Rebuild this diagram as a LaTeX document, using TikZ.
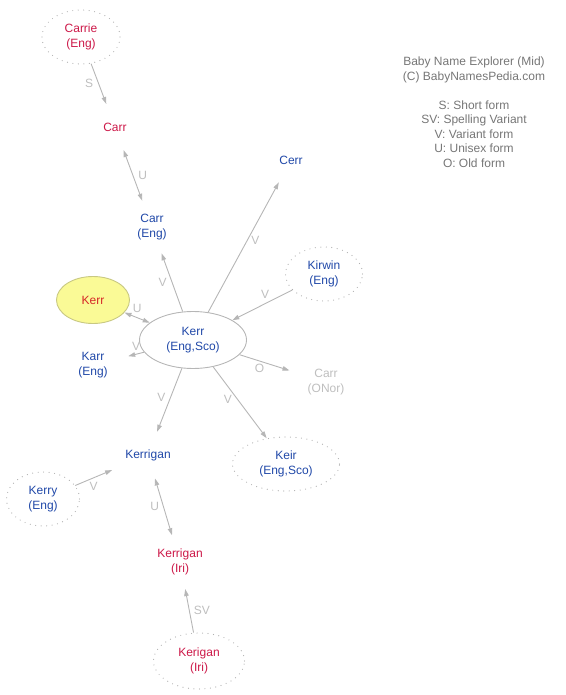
\documentclass[tikz,border=0pt]{standalone}
\usepackage{fontspec}
\setmainfont{Liberation Sans}
\usetikzlibrary{arrows.meta,shapes.geometric}
\definecolor{nmblue}{RGB}{32,72,168}
\definecolor{nmred}{RGB}{204,24,72}
\definecolor{nmself}{RGB}{214,40,40}
\definecolor{nmgray}{RGB}{190,190,190}
\definecolor{linkgray}{RGB}{182,182,182}
\definecolor{ringgray}{RGB}{176,176,176}
\definecolor{keygray}{RGB}{118,118,118}
\definecolor{selffill}{RGB}{250,250,150}
\definecolor{selfline}{RGB}{200,200,130}

\begin{document}
\begin{tikzpicture}
		[x=1pt,y=-1pt,
		babyname/.style={ellipse,align=center,font=\fontsize{12}{15}\selectfont,inner xsep=10pt,inner ysep=4pt,minimum width=74pt,minimum height=54pt},
		single/.style={babyname,minimum width=73pt,minimum height=47pt},
		boy/.style={text=nmblue},
		girl/.style={text=nmred},
		ring/.style={draw=ringgray,line width=1.2pt,line cap=round,dash pattern=on 0pt off 5.5pt},
		link/.style={draw=linkgray,line width=0.9pt,-{Triangle[length=7pt,width=4.5pt]}},
		both/.style={link,{Triangle[length=7pt,width=4.5pt]}-{Triangle[length=7pt,width=4.5pt]}},
		rel/.style={font=\fontsize{12}{14}\selectfont,text=nmgray,inner sep=2pt},
		key/.style={align=center,font=\fontsize{12}{14.5}\selectfont,text=keygray}]
		\useasboundingbox (0,0) rectangle (565,695);

		% names
		\node [babyname,girl,ring,minimum width=78pt] (carrie) at (81,37) {Carrie\\(Eng)};
		\node [single,girl] (carr) at (115,127) {Carr};
		\node [single,boy] (cerr) at (291,160) {Cerr};
		\node [babyname,boy] (carreng) at (152,227) {Carr\\(Eng)};
		\node [babyname,boy,ring,minimum width=77pt] (kirwin) at (324,274) {Kirwin\\(Eng)};
		\node [single,text=nmself,draw=selfline,fill=selffill,line width=0.9pt] (self) at (93,300) {Kerr};
		\node [babyname,boy,draw=linkgray,line width=0.9pt,minimum width=107pt,minimum height=57pt] (kerr) at (193,340) {Kerr\\(Eng,Sco)};
		\node [babyname,boy] (karr) at (93,365) {Karr\\(Eng)};
		\node [babyname,text=nmgray,minimum width=80pt] (carronor) at (326,382) {Carr\\(ONor)};
		\node [single,boy,minimum width=90pt] (kerrigan) at (148,455) {Kerrigan};
		\node [babyname,boy,ring,minimum width=107pt] (keir) at (286,464) {Keir\\(Eng,Sco)};
		\node [babyname,boy,ring,minimum width=73pt] (kerry) at (43,499) {Kerry\\(Eng)};
		\node [babyname,girl] (kerriri) at (180,562) {Kerrigan\\(Iri)};
		\node [babyname,girl,ring,minimum width=91pt,minimum height=56pt] (kerigan) at (199,661) {Kerigan\\(Iri)};

		% legend
		\node [key] (title) at (474,70) {Baby Name Explorer (Mid)\\(C) BabyNamesPedia.com};
		\node [key] (legend) at (474,134) {S: Short form\\SV: Spelling Variant\\V: Variant form\\U: Unisex form\\O: Old form};

		% links
		\draw [link] (carrie) -- node [rel,left=3pt] {S} (carr);
		\draw [both] (carr) -- node [rel,right=3pt] {U} (carreng);
		\draw [link] (kerr) -- node [rel,left=3pt] {V} (carreng);
		\draw [link] (kerr) -- node [rel,right=2pt,pos=0.55] {V} (cerr);
		\draw [link] (kirwin) -- node [rel,above=3pt,pos=0.45] {V} (kerr);
		\draw [both] (self) -- node [rel,above=3pt] {U} (kerr);
		\draw [link] (kerr) -- node [rel,above=1pt] {V} (karr);
		\draw [link] (kerr) -- node [rel,below=1pt,pos=0.4] {O} (carronor);
		\draw [link] (kerr) -- node [rel,left=3pt,pos=0.45] {V} (kerrigan);
		\draw [link] (kerr) -- node [rel,left=3pt,pos=0.45] {V} (keir);
		\draw [link] (kerry) -- node [rel,below=2pt] {V} (kerrigan);
		\draw [both] (kerrigan) -- node [rel,left=2pt] {U} (kerriri);
		\draw [link] (kerigan) -- node [rel,right=2pt] {SV} (kerriri);

	\end{tikzpicture}
\end{document}
